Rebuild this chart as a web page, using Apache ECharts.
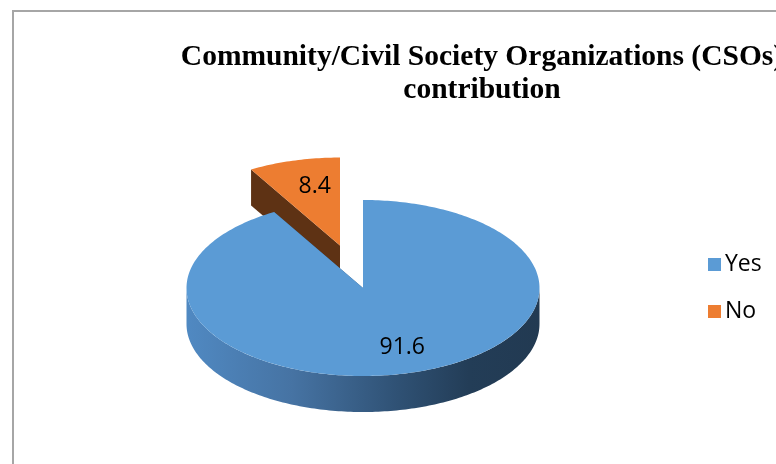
<!DOCTYPE html>
<html>
<head>
<meta charset="utf-8">
<script src="https://cdn.jsdelivr.net/npm/echarts@6/dist/echarts.min.js"></script>
<style>
html,body{margin:0;padding:0;background:#fff;}
#chart{width:776px;height:464px;}
</style>
</head>
<body>
<div id="chart"></div>
<script>
const titleLines = ['Community/Civil Society Organizations (CSOs)', 'contribution'];
const categories = ['Yes', 'No'];
const values = [91.6, 8.4];
const explodeFlags = [0, 1];

const chart = echarts.init(document.getElementById('chart'));

const G = { cx: 363, cy: 288, rx: 176.5, ry: 88, depth: 36, explode: 0.5, labelR: 0.7, labelDx: 7 };
const topColors = ['#5b9bd5', '#ed7d31'];
const cutColors = ['#2f5479', '#5e3214'];
const total = values.reduce((a, b) => a + b, 0);

function pt(cx, cy, a, r) {
  const t = a * Math.PI / 180;
  return [cx + G.rx * r * Math.sin(t), cy - G.ry * r * Math.cos(t)];
}
function arc(cx, cy, a0, a1, dy) {
  const pts = [];
  const n = Math.max(2, Math.ceil(Math.abs(a1 - a0)));
  for (let k = 0; k <= n; k++) {
    const a = a0 + (a1 - a0) * k / n;
    const p = pt(cx, cy, a, 1);
    pts.push([p[0], p[1] + dy]);
  }
  return pts;
}

function makeRender(i) {
  return function (params, api) {
    const v = api.value(0);
    let start = 0;
    for (let k = 0; k < i; k++) start += values[k];
    const a0 = start / total * 360;
    const a1 = (start + v) / total * 360;
    const mid = (a0 + a1) / 2;
    const t = mid * Math.PI / 180;
    const e = explodeFlags[i] ? G.explode : 0;
    const cx = G.cx + e * G.rx * Math.sin(t);
    const cy = G.cy - e * G.ry * Math.cos(t);
    const children = [];
    [a0, a1].forEach(function (a) {
      const p = pt(cx, cy, a, 1);
      children.push({
        type: 'polygon',
        shape: { points: [[cx, cy], p, [p[0], p[1] + G.depth], [cx, cy + G.depth]] },
        style: { fill: cutColors[i] }
      });
    });
    const w0 = Math.max(a0, 90), w1 = Math.min(a1, 270);
    if (w1 > w0) {
      const topArc = arc(cx, cy, w0, w1, 0);
      const botArc = arc(cx, cy, w1, w0, G.depth);
      children.push({
        type: 'polygon',
        shape: { points: topArc.concat(botArc) },
        style: {
          fill: i === 0 ? {
            type: 'linear', x: 0, y: 0, x2: 1, y2: 0,
            colorStops: [
              { offset: 0, color: '#5089c2' },
              { offset: 0.3, color: '#4673a3' },
              { offset: 0.6, color: '#2f5174' },
              { offset: 0.8, color: '#233d57' },
              { offset: 1, color: '#223a52' }
            ]
          } : '#8a4a1c'
        }
      });
    }
    children.push({
      type: 'polygon',
      shape: { points: [[cx, cy]].concat(arc(cx, cy, a0, a1, 0)) },
      style: { fill: topColors[i] }
    });
    const lp = pt(cx, cy, mid, G.labelR);
    children.push({
      type: 'text',
      x: lp[0] + G.labelDx, y: lp[1],
      style: {
        text: String(v), fill: '#000', align: 'center', verticalAlign: 'middle',
        font: '23px "Open Sans", sans-serif'
      }
    });
    return { type: 'group', children: children };
  };
}

const series = categories.map(function (name, i) {
  return {
    type: 'custom',
    name: name,
    coordinateSystem: 'none',
    z: i === 0 ? 3 : 2,
    itemStyle: { color: topColors[i] },
    data: [[values[i]]],
    renderItem: makeRender(i),
    silent: true
  };
});

chart.setOption({
  backgroundColor: '#ffffff',
  animation: false,
  title: {
    text: titleLines.join('\n'),
    left: 477,
    top: 36,
    textAlign: 'center',
    textStyle: {
      fontFamily: '"Liberation Serif", "Times New Roman", serif',
      fontWeight: 'bold',
      fontSize: 29.5,
      lineHeight: 33,
      color: '#000'
    }
  },
  legend: {
    orient: 'vertical',
    left: 703,
    top: 248,
    icon: 'rect',
    itemWidth: 13,
    itemHeight: 13,
    itemGap: 24,
    data: categories,
    textStyle: { fontFamily: '"Open Sans", sans-serif', fontSize: 23, color: '#000', padding: [0, 0, 0, -1] }
  },
  graphic: [{
    type: 'polyline',
    shape: { points: [[13, 470], [13, 11], [790, 11]] },
    style: { stroke: '#a6a6a6', lineWidth: 2, fill: null },
    z: 0
  }],
  series: series
});
</script>
</body>
</html>
